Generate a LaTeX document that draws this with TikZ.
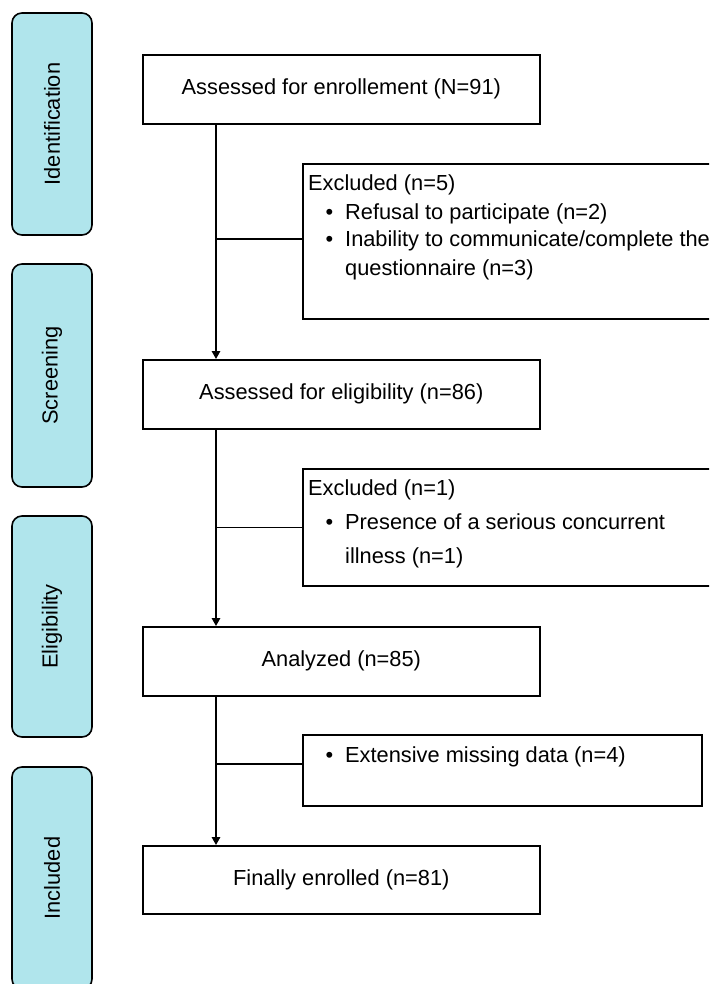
\documentclass[tikz,border=0pt]{standalone}
\usepackage{fontspec}
\setmainfont{Liberation Sans}
\usetikzlibrary{arrows.meta,calc}
\definecolor{phase}{RGB}{176,229,236}
\begin{document}
\begin{tikzpicture}[x=1pt,y=-1pt,
  txt/.style={font=\fontsize{21.8pt}{26pt}\selectfont, text=black},
  phasebox/.style={draw=black, line width=1.6pt, fill=phase, rounded corners=10pt, rotate=90, minimum width=#1, minimum height=80pt, inner sep=0pt, txt},
  mainbox/.style={draw=black, line width=1.6pt, minimum width=397pt, minimum height=69pt, anchor=north west, inner sep=0pt, txt},
  exbox/.style={draw=black, line width=1.6pt, anchor=north west, inner sep=0pt},
  lbl/.style={anchor=base west, inner sep=0pt, txt},
  conn/.style={line width=1.6pt},
  arr/.style={conn, -{Triangle[length=8pt,width=8.5pt]}}]
\useasboundingbox (0,0) rectangle (709,984);
\clip (0,0) rectangle (709,984);

% phase boxes
\node[phasebox=222pt] (p1) at (52,124) {Identification};
\node[phasebox=223pt] (p2) at (52,375.5) {Screening};
\node[phasebox=221pt] (p3) at (52,626.5) {Eligibility};
\node[phasebox=222pt] (p4) at (52,878) {Included};

% main boxes
\node[mainbox] (m1) at (142,54) {Assessed for enrollement (N=91)};
\node[mainbox] (m2) at (142,359) {Assessed for eligibility (n=86)};
\node[mainbox] (m3) at (142,626) {Analyzed (n=85)};
\node[mainbox, minimum height=68pt] (m4) at (142,845) {Finally enrolled (n=81)};

% exclusion boxes
\node[exbox, minimum width=440pt, minimum height=155pt] (exA) at (302,163) {};
\node[exbox, minimum width=440pt, minimum height=117pt] (exB) at (302,468) {};
\node[exbox, minimum width=399pt, minimum height=71pt] (exC) at (302,734) {};

% exclusion texts
\node[lbl] (a1) at (308,191) {Excluded (n=5)};
\node[lbl] (a2) at (308,219) {\makebox[37pt][l]{\hspace{17.5pt}•}Refusal to participate (n=2)};
\node[lbl] (a3) at (308,247) {\makebox[37pt][l]{\hspace{17.5pt}•}Inability to communicate/complete the};
\node[lbl] (a4) at (308,275) {\hspace*{37pt}questionnaire (n=3)};

\node[lbl] (b1) at (308,495) {Excluded (n=1)};
\node[lbl] (b2) at (308,529) {\makebox[37pt][l]{\hspace{17.5pt}•}Presence of a serious concurrent};
\node[lbl] (b3) at (308,563) {\hspace*{37pt}illness (n=1)};

\node[lbl] (c1) at (308,762) {\makebox[37pt][l]{\hspace{17.5pt}•}Extensive missing data (n=4)};

% vertical connectors
\draw[arr] ([xshift=74pt]m1.south west) -- ([xshift=74pt]m2.north west);
\draw[arr] ([xshift=74pt]m2.south west) -- ([xshift=74pt]m3.north west);
\draw[arr] ([xshift=74pt]m3.south west) -- ([xshift=74pt]m4.north west);

% branches
\coordinate (v) at ([xshift=74pt]m1.south west);
\coordinate (bA) at ([yshift=2.5pt]exA.west);
\coordinate (bB) at (exB.west);
\coordinate (bC) at ([yshift=6.5pt]exC.west);
\draw[conn] (bA) -- (bA -| v);
\draw[conn] (bB) -- (bB -| v);
\draw[conn] (bC) -- (bC -| v);
\end{tikzpicture}
\end{document}
